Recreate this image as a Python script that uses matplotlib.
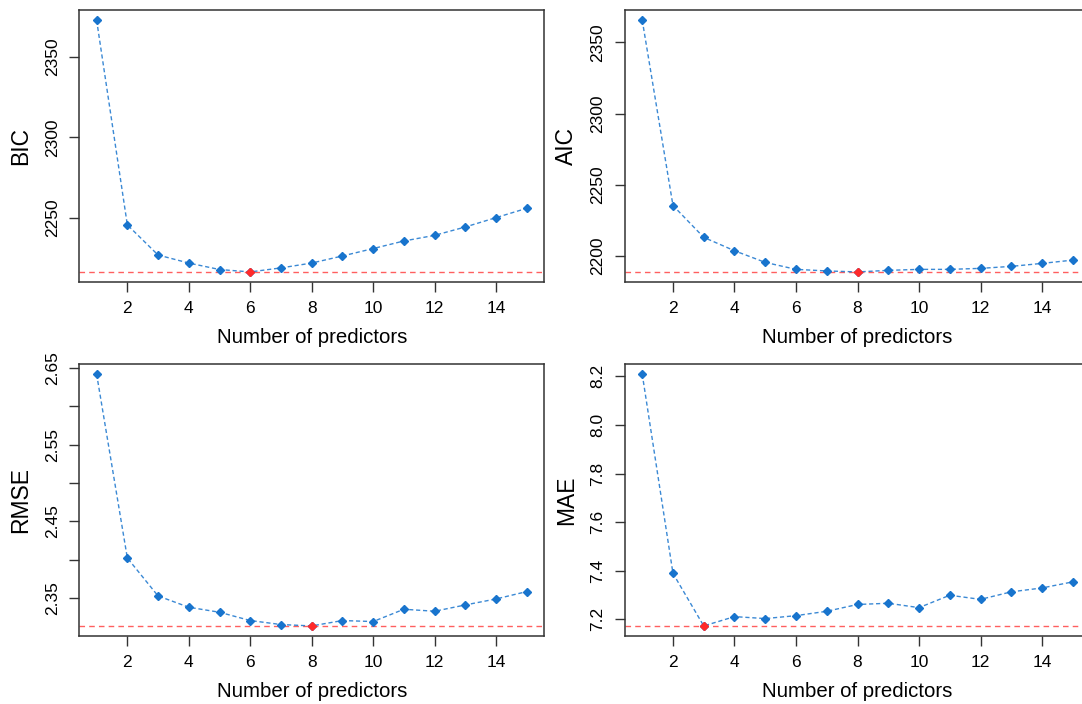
import numpy as np
import matplotlib
matplotlib.use('Agg')
import matplotlib.pyplot as plt

plt.rcParams['font.family'] = ['Liberation Sans', 'DejaVu Sans']

n_pred = list(range(1, 16))

bic = [2372.8, 2245.7, 2227.0, 2222.0, 2218.0, 2216.5, 2219.0, 2222.0,
       2226.4, 2231.0, 2235.7, 2239.2, 2244.4, 2250.2, 2256.0]
aic = [2365.7, 2235.3, 2212.9, 2203.5, 2195.3, 2190.4, 2189.3, 2188.6,
       2189.7, 2190.4, 2190.4, 2191.1, 2192.5, 2194.6, 2196.9]
rmse = [2.6417, 2.4024, 2.3530, 2.3383, 2.3318, 2.3210, 2.3158, 2.3140,
        2.3210, 2.3197, 2.3357, 2.3331, 2.3413, 2.3491, 2.3587]
mae = [8.2095, 7.389, 7.1727, 7.211, 7.203, 7.215, 7.233, 7.261,
       7.266, 7.248, 7.299, 7.282, 7.313, 7.329, 7.354]

x_ticks = [2, 4, 6, 8, 10, 12, 14]

panels = [
    ('BIC', bic, [2250, 2300, 2350], ['2250', '2300', '2350']),
    ('AIC', aic, [2200, 2250, 2300, 2350], ['2200', '2250', '2300', '2350']),
    ('RMSE', rmse, [2.35, 2.40, 2.45, 2.50, 2.55, 2.60, 2.65],
     ['2.35', '', '2.45', '', '2.55', '', '2.65']),
    ('MAE', mae, [7.2, 7.4, 7.6, 7.8, 8.0, 8.2],
     ['7.2', '7.4', '7.6', '7.8', '8.0', '8.2']),
]

# axes boxes in pixels (left, top, width, height) on a 1082x704 canvas
W, H = 1082, 704
boxes = [(79.4, 10, 464.6, 272), (625, 10, 465, 272),
         (79.4, 364, 464.6, 272), (625, 364, 465, 272)]

blue = '#1874CD'
red = '#FF2A2A'

fig = plt.figure(figsize=(W / 100, H / 100), dpi=100)

for (name, vals, yt, ytl), (l, t, w, h) in zip(panels, boxes):
    ax = fig.add_axes([l / W, 1 - (t + h) / H, w / W, h / H])
    vals = np.array(vals)
    best = int(np.argmin(vals))

    ax.axhline(vals[best], color=red, alpha=0.75, lw=1.0, ls=(0, (4, 3)), zorder=1)
    ax.plot(n_pred, vals, color=blue, lw=1.0, ls=(0, (3, 2)), alpha=0.85, zorder=2)
    ax.plot(n_pred, vals, ls='none', marker='D', ms=3.6, color=blue, zorder=3)
    ax.plot(n_pred[best], vals[best], ls='none', marker='D', ms=3.6, color=red, zorder=4)

    lo, hi = vals.min(), vals.max()
    pad = 0.04 * (hi - lo)
    ax.set_ylim(lo - pad, hi + pad)
    ax.set_xlim(0.44, 15.56)

    ax.set_xticks(x_ticks)
    ax.set_yticks(yt)
    ax.set_yticklabels(ytl, rotation=90, va='center')
    ax.tick_params(axis='both', direction='out', length=7, width=1,
                   labelsize=12.5, pad=7, color='#333333')

    for s in ax.spines.values():
        s.set_linewidth(1.1)
        s.set_color('#333333')

    ax.set_xlabel('Number of predictors', fontsize=14.7)
    ax.xaxis.set_label_coords(0.5, -0.205)
    ax.xaxis.label.set_va('center')
    ax.set_ylabel(name, fontsize=16.5)
    ax.yaxis.set_label_coords(-0.126, 0.5)
    ax.yaxis.label.set_va('center')

fig.savefig('out.png', dpi=100)
